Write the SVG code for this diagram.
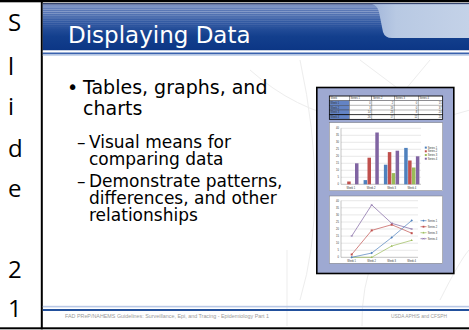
<svg xmlns="http://www.w3.org/2000/svg" width="469" height="330" viewBox="0 0 469 330">
<style>
.cellLetter{font-family:"Open Sans","Noto Sans",sans-serif;font-size:24px;fill:#000}
.title{font-family:"DejaVu Sans",Verdana,sans-serif;font-size:23px;fill:#fff}
.b1{font-family:"DejaVu Sans",Verdana,sans-serif;font-size:19px;fill:#000}
.b2{font-family:"DejaVu Sans",Verdana,sans-serif;font-size:17px;fill:#000}
.foot{font-family:"Liberation Sans",Arial,sans-serif;font-size:5px;fill:#9a9a9a}
.tiny{font-family:"Liberation Sans",Arial,sans-serif;font-size:2.6px;fill:#333}
.grid{stroke:#c4c4c4;stroke-width:0.4}
.axis{stroke:#888;stroke-width:0.5}
.s1{fill:#4f81bd}.s2{fill:#c0504d}.s3{fill:#9bbb59}.s4{fill:#8064a2}
.l1{stroke:#4f81bd}.l2{stroke:#c0504d}.l3{stroke:#9bbb59}.l4{stroke:#8064a2}
.ln{fill:none;stroke-width:0.7}
.tcell{fill:#fff;stroke:#444;stroke-width:0.4}
.tweek{fill:#6383c4;stroke:#444;stroke-width:0.4}
.faint{fill:none;stroke:#ededed;stroke-width:1}
</style>
<defs>
 <linearGradient id="barG" x1="0" y1="0" x2="0" y2="1">
  <stop offset="0" stop-color="#7088c0"/>
  <stop offset="0.4" stop-color="#3158a2"/>
  <stop offset="0.7" stop-color="#133f8d"/>
  <stop offset="1" stop-color="#0c3685"/>
 </linearGradient>
 <linearGradient id="tabG" x1="0" y1="0" x2="1" y2="0">
  <stop offset="0" stop-color="#a2b6da"/>
  <stop offset="0.25" stop-color="#b8c9e3"/>
  <stop offset="1" stop-color="#c4d2e8"/>
 </linearGradient>
 <linearGradient id="fadeG" x1="0" y1="0" x2="0" y2="1">
  <stop offset="0" stop-color="#fff" stop-opacity="0.45"/>
  <stop offset="1" stop-color="#fff" stop-opacity="0"/>
 </linearGradient>
 <pattern id="stripes" width="4" height="2.2" patternUnits="userSpaceOnUse"><rect width="4" height="0.9" fill="#ffffff"/></pattern>
 <mask id="fadeM"><rect x="43" y="4" width="426" height="26" fill="url(#fadeG)"/></mask>
</defs>

<rect width="469" height="330" fill="#fff"/>

<g id="table-frame">
 <rect x="0" y="0" width="469" height="2.3" fill="#000"/>
 <rect x="0" y="327.3" width="469" height="2" fill="#000"/>
 <rect x="40.8" y="0" width="2" height="329.3" fill="#000"/>
</g>

<g id="left-column">
 <text class="cellLetter" x="8" y="31">S</text>
 <text class="cellLetter" x="8" y="75">l</text>
 <text class="cellLetter" x="8" y="115">i</text>
 <text class="cellLetter" x="8" y="157">d</text>
 <text class="cellLetter" x="8" y="197">e</text>
 <text class="cellLetter" x="8" y="278">2</text>
 <text class="cellLetter" x="8" y="317">1</text>
</g>

<g id="slide-background">
 <path class="faint" d="M250 70 Q 340 150 470 110"/>
 <path class="faint" d="M300 300 Q 330 200 300 60"/>
 <path class="faint" d="M362 326 Q 360 250 420 180"/>
 <path class="faint" d="M287 326 L 287 250"/>
 <path class="faint" d="M360 60 L 440 120"/>
 <path class="faint" d="M430 60 L 380 120"/>
 <path class="faint" d="M440 300 Q 460 260 469 250"/>
</g>

<g id="title-bar">
 <rect x="42.8" y="3.3" width="426.2" height="47.2" fill="url(#barG)"/>
 <rect x="42.8" y="4" width="426.2" height="26" fill="url(#stripes)" mask="url(#fadeM)"/>
 <rect x="42.8" y="3.3" width="426.2" height="1" fill="#0a1a44"/>
 <path d="M372 4.3 Q 377 5 379 12 L 383 32 Q 385 38 392 38 L 469 38 L 469 4.3 Z" fill="url(#tabG)"/>
 <rect x="42.8" y="50.5" width="426.2" height="2" fill="#ffffff"/>
 <rect x="42.8" y="52.5" width="426.2" height="2" fill="#3a62ad"/>
 <rect x="42.8" y="54.5" width="426.2" height="1.5" fill="#cad7ec"/>
 <text class="title" x="68" y="43">Displaying Data</text>
</g>

<g id="bullets">
 <text class="b1" x="67" y="94">•</text>
 <text class="b1" x="83" y="94">Tables, graphs, and</text>
 <text class="b1" x="83" y="115">charts</text>
 <text class="b2" x="77" y="148">–</text>
 <text class="b2" x="89" y="148">Visual means for</text>
 <text class="b2" x="89" y="165">comparing data</text>
 <text class="b2" x="77" y="187">–</text>
 <text class="b2" x="89" y="187">Demonstrate patterns,</text>
 <text class="b2" x="89" y="204">differences, and other</text>
 <text class="b2" x="89" y="221">relationships</text>
</g>

<g id="chart-figure">
 <rect x="316.8" y="87.5" width="137" height="186" fill="#9ea9d2" stroke="#000" stroke-width="1.6"/>

 <g id="data-table">
  <rect class="tcell" x="329.3" y="96" width="20" height="4.7"/>
  <rect class="tcell" x="349.3" y="96" width="22.4" height="4.7"/>
  <rect class="tcell" x="371.7" y="96" width="22.6" height="4.7"/>
  <rect class="tcell" x="394.3" y="96" width="24" height="4.7"/>
  <rect class="tcell" x="418.3" y="96" width="24.4" height="4.7"/>
  <rect class="tweek" x="329.3" y="100.7" width="20" height="4.6"/>
  <rect class="tweek" x="329.3" y="105.3" width="20" height="4.7"/>
  <rect class="tweek" x="329.3" y="110" width="20" height="4.6"/>
  <rect class="tweek" x="329.3" y="114.6" width="20" height="4.7"/>
  <rect class="tcell" x="349.3" y="100.7" width="93.4" height="18.6"/>
  <g stroke="#444" stroke-width="0.4">
   <line x1="371.7" y1="100.7" x2="371.7" y2="119.3"/>
   <line x1="394.3" y1="100.7" x2="394.3" y2="119.3"/>
   <line x1="418.3" y1="100.7" x2="418.3" y2="119.3"/>
   <line x1="349.3" y1="105.3" x2="442.7" y2="105.3"/>
   <line x1="349.3" y1="110" x2="442.7" y2="110"/>
  </g>
  <line x1="329.3" y1="114.6" x2="442.7" y2="114.6" stroke="#000" stroke-width="0.8"/>
  <rect x="329.3" y="96" width="113.4" height="23.3" fill="none" stroke="#000" stroke-width="0.7"/>
  <text class="tiny" x="330.5" y="99.4">Week</text>
  <text class="tiny" x="350.5" y="99.4">Series 1</text>
  <text class="tiny" x="372.9" y="99.4">Series 2</text>
  <text class="tiny" x="395.5" y="99.4">Series 3</text>
  <text class="tiny" x="419.5" y="99.4">Series 4</text>
  <text class="tiny" x="330.5" y="104">Week 1</text>
  <text class="tiny" x="330.5" y="108.6">Week 2</text>
  <text class="tiny" x="330.5" y="113.3">Week 3</text>
  <text class="tiny" x="330.5" y="117.9">Week 4</text>
  <g text-anchor="end">
   <text class="tiny" x="370.7" y="104">0</text><text class="tiny" x="393.3" y="104">2</text><text class="tiny" x="417.3" y="104">0</text><text class="tiny" x="441.7" y="104">15</text>
   <text class="tiny" x="370.7" y="108.6">3</text><text class="tiny" x="393.3" y="108.6">19</text><text class="tiny" x="417.3" y="108.6">0</text><text class="tiny" x="441.7" y="108.6">37</text>
   <text class="tiny" x="370.7" y="113.3">14</text><text class="tiny" x="393.3" y="113.3">23</text><text class="tiny" x="417.3" y="113.3">8</text><text class="tiny" x="441.7" y="113.3">24</text>
   <text class="tiny" x="370.7" y="117.9">26</text><text class="tiny" x="393.3" y="117.9">17</text><text class="tiny" x="417.3" y="117.9">12</text><text class="tiny" x="441.7" y="117.9">20</text>
  </g>
 </g>

 <g id="bar-chart">
  <rect x="329.3" y="122.7" width="113.4" height="68" fill="#fff" stroke="#7a7a7a" stroke-width="0.5"/>
  <g class="grid">
   <line x1="341" y1="128.3" x2="421" y2="128.3"/><line x1="341" y1="135.3" x2="421" y2="135.3"/>
   <line x1="341" y1="142.3" x2="421" y2="142.3"/><line x1="341" y1="149.3" x2="421" y2="149.3"/>
   <line x1="341" y1="156.3" x2="421" y2="156.3"/><line x1="341" y1="163.3" x2="421" y2="163.3"/>
   <line x1="341" y1="170.3" x2="421" y2="170.3"/><line x1="341" y1="177.3" x2="421" y2="177.3"/>
  </g>
  <line class="axis" x1="341" y1="128.3" x2="341" y2="184.3"/>
  <line class="axis" x1="341" y1="184.3" x2="421" y2="184.3"/>
  <g text-anchor="end">
   <text class="tiny" x="339" y="129.2">40</text><text class="tiny" x="339" y="136.2">35</text>
   <text class="tiny" x="339" y="143.2">30</text><text class="tiny" x="339" y="150.2">25</text>
   <text class="tiny" x="339" y="157.2">20</text><text class="tiny" x="339" y="164.2">15</text>
   <text class="tiny" x="339" y="171.2">10</text><text class="tiny" x="339" y="178.2">5</text>
   <text class="tiny" x="339" y="185.2">0</text>
  </g>
  <rect class="s2" x="347.2" y="181.5" width="3.5" height="2.8"/>
  <rect class="s4" x="355.0" y="163.3" width="3.5" height="21"/>
  <rect class="s1" x="363.6" y="180.1" width="3.5" height="4.2"/>
  <rect class="s2" x="367.5" y="157.7" width="3.5" height="26.6"/>
  <rect class="s4" x="375.3" y="132.5" width="3.5" height="51.8"/>
  <rect class="s1" x="383.9" y="164.7" width="3.5" height="19.6"/>
  <rect class="s2" x="387.8" y="152.1" width="3.5" height="32.2"/>
  <rect class="s3" x="391.7" y="173.1" width="3.5" height="11.2"/>
  <rect class="s4" x="395.6" y="150.7" width="3.5" height="33.6"/>
  <rect class="s1" x="404.2" y="147.9" width="3.5" height="36.4"/>
  <rect class="s2" x="408.1" y="160.5" width="3.5" height="23.8"/>
  <rect class="s3" x="412.0" y="167.5" width="3.5" height="16.8"/>
  <rect class="s4" x="415.9" y="156.3" width="3.5" height="28"/>
  <g text-anchor="middle">
   <text class="tiny" x="350.9" y="189">Week 1</text><text class="tiny" x="371.2" y="189">Week 2</text>
   <text class="tiny" x="391.5" y="189">Week 3</text><text class="tiny" x="411.8" y="189">Week 4</text>
  </g>
  <rect class="s1" x="424.8" y="146.6" width="2" height="2"/><text class="tiny" x="427.7" y="148.6">Series 1</text>
  <rect class="s2" x="424.8" y="150.3" width="2" height="2"/><text class="tiny" x="427.7" y="152.3">Series 2</text>
  <rect class="s3" x="424.8" y="154" width="2" height="2"/><text class="tiny" x="427.7" y="156">Series 3</text>
  <rect class="s4" x="424.8" y="157.7" width="2" height="2"/><text class="tiny" x="427.7" y="159.7">Series 4</text>
 </g>

 <g id="line-chart">
  <rect x="329.3" y="196" width="113.4" height="67.3" fill="#fff" stroke="#7a7a7a" stroke-width="0.5"/>
  <g class="grid">
   <line x1="341" y1="200.7" x2="418" y2="200.7"/><line x1="341" y1="207.8" x2="418" y2="207.8"/>
   <line x1="341" y1="214.9" x2="418" y2="214.9"/><line x1="341" y1="222" x2="418" y2="222"/>
   <line x1="341" y1="229" x2="418" y2="229"/><line x1="341" y1="236.1" x2="418" y2="236.1"/>
   <line x1="341" y1="243.2" x2="418" y2="243.2"/><line x1="341" y1="250.3" x2="418" y2="250.3"/>
  </g>
  <line class="axis" x1="341" y1="200.7" x2="341" y2="257.3"/>
  <line class="axis" x1="341" y1="257.3" x2="418" y2="257.3"/>
  <g text-anchor="end">
   <text class="tiny" x="339" y="201.6">40</text><text class="tiny" x="339" y="208.7">35</text>
   <text class="tiny" x="339" y="215.8">30</text><text class="tiny" x="339" y="222.9">25</text>
   <text class="tiny" x="339" y="229.9">20</text><text class="tiny" x="339" y="237">15</text>
   <text class="tiny" x="339" y="244.1">10</text><text class="tiny" x="339" y="251.2">5</text>
   <text class="tiny" x="339" y="258.2">0</text>
  </g>
  <polyline class="ln l4" points="351.7,236.05 371.7,204.9 391.7,223.3 411.7,229"/>
  <polyline class="ln l2" points="351.7,254.5 371.7,230.4 391.7,224.7 411.7,233.2"/>
  <polyline class="ln l3" points="351.7,257.3 371.7,257.3 391.7,246 411.7,240.3"/>
  <polyline class="ln l1" points="351.7,257.3 371.7,253.05 391.7,237.5 411.7,220.5"/>
  <g class="s1"><path d="M351.7 256.1l1.2 1.2-1.2 1.2-1.2-1.2z"/><path d="M371.7 251.85l1.2 1.2-1.2 1.2-1.2-1.2z"/><path d="M391.7 236.3l1.2 1.2-1.2 1.2-1.2-1.2z"/><path d="M411.7 219.3l1.2 1.2-1.2 1.2-1.2-1.2z"/></g>
  <g class="s2"><rect x="350.7" y="253.5" width="2" height="2"/><rect x="370.7" y="229.4" width="2" height="2"/><rect x="390.7" y="223.7" width="2" height="2"/><rect x="410.7" y="232.2" width="2" height="2"/></g>
  <g class="s3"><path d="M371.7 256.1l1.1 1.9h-2.2z"/><path d="M391.7 244.8l1.1 1.9h-2.2z"/><path d="M411.7 239.1l1.1 1.9h-2.2z"/></g>
  <g class="l4" stroke-width="0.5"><path d="M350.7 235.05l2 2m0-2l-2 2M370.7 203.9l2 2m0-2l-2 2M390.7 222.3l2 2m0-2l-2 2M410.7 228l2 2m0-2l-2 2"/></g>
  <g text-anchor="middle">
   <text class="tiny" x="351.7" y="261.6">Week 1</text><text class="tiny" x="371.7" y="261.6">Week 2</text>
   <text class="tiny" x="391.7" y="261.6">Week 3</text><text class="tiny" x="411.7" y="261.6">Week 4</text>
  </g>
  <line class="ln l1" x1="420.5" y1="220.7" x2="426.5" y2="220.7"/><path class="s1" d="M423.5 219.6l1.1 1.1-1.1 1.1-1.1-1.1z"/><text class="tiny" x="427.8" y="221.6">Series 1</text>
  <line class="ln l2" x1="420.5" y1="226.7" x2="426.5" y2="226.7"/><rect class="s2" x="422.6" y="225.8" width="1.8" height="1.8"/><text class="tiny" x="427.8" y="227.6">Series 2</text>
  <line class="ln l3" x1="420.5" y1="232.7" x2="426.5" y2="232.7"/><path class="s3" d="M423.5 231.6l1 1.8h-2z"/><text class="tiny" x="427.8" y="233.6">Series 3</text>
  <line class="ln l4" x1="420.5" y1="238.7" x2="426.5" y2="238.7"/><path class="l4" stroke-width="0.5" d="M422.6 237.8l1.8 1.8m0-1.8l-1.8 1.8"/><text class="tiny" x="427.8" y="239.6">Series 4</text>
 </g>
</g>

<g id="footer">
 <rect x="42.8" y="305.8" width="426.2" height="1.6" fill="#b9c8e6"/>
 <rect x="42.8" y="309" width="426.2" height="2" fill="#22509c"/>
 <text class="foot" x="65" y="317.5" textLength="204" lengthAdjust="spacingAndGlyphs">FAD PReP/NAHEMS Guidelines: Surveillance, Epi, and Tracing - Epidemiology Part 1</text>
 <text class="foot" x="391" y="317.5" textLength="56" lengthAdjust="spacingAndGlyphs">USDA APHIS and CFSPH</text>
</g>
</svg>
